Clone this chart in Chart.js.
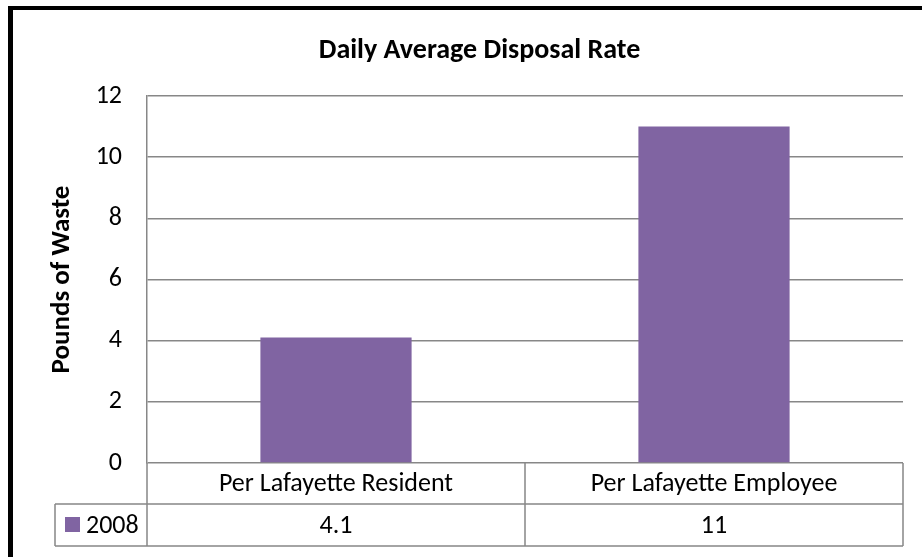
<!DOCTYPE html>
<html>
<head>
<meta charset="utf-8">
<script src="https://cdn.jsdelivr.net/npm/chart.js@4.4.1/dist/chart.umd.min.js"></script>
<style>
  html, body { margin: 0; padding: 0; background: #ffffff; }
  #wrap { width: 922px; height: 557px; position: relative; }
</style>
</head>
<body>
<div id="wrap"><canvas id="c" width="922" height="557"></canvas></div>
<script>
const chartTitle = 'Daily Average Disposal Rate';
const yAxisTitle = 'Pounds of Waste';
const categories = ['Per Lafayette Resident', 'Per Lafayette Employee'];
const seriesName = '2008';
const values2008 = [4.1, 11];
const yMin = 0;
const yMax = 12;
const yStep = 2;

const FONT = 'Carlito, Calibri, Lato, sans-serif';
const GRID = '#878787';
const BAR = '#8064A2';

const frameAndTable = {
  id: 'frameAndTable',
  beforeDraw(chart) {
    const ctx = chart.ctx;
    ctx.save();
    ctx.fillStyle = '#ffffff';
    ctx.fillRect(0, 0, chart.width, chart.height);
    ctx.fillStyle = '#000000';
    ctx.fillRect(8, 6, 5, chart.height - 6);
    ctx.fillRect(8, 6, chart.width - 8, 4);
    ctx.restore();
  },
  afterDraw(chart) {
    const ctx = chart.ctx;
    const area = chart.chartArea;
    const xs = chart.scales.x;
    const labels = chart.data.labels;
    const ds = chart.data.datasets[0];
    const n = labels.length;
    const rowH1 = 41, rowH2 = 42;
    const top = area.bottom;
    const mid = top + rowH1;
    const bot = mid + rowH2;
    const legendLeft = 55;
    const bounds = [area.left];
    for (let i = 0; i < n - 1; i++) {
      bounds.push((xs.getPixelForValue(i) + xs.getPixelForValue(i + 1)) / 2);
    }
    bounds.push(area.right);
    ctx.save();
    ctx.strokeStyle = GRID;
    ctx.lineWidth = 1.5;
    ctx.beginPath();
    bounds.forEach(b => { ctx.moveTo(b, top); ctx.lineTo(b, bot); });
    ctx.moveTo(legendLeft, mid); ctx.lineTo(legendLeft, bot);
    ctx.moveTo(legendLeft, mid); ctx.lineTo(area.right, mid);
    ctx.moveTo(legendLeft, bot); ctx.lineTo(area.right, bot);
    ctx.stroke();
    ctx.fillStyle = '#000000';
    ctx.font = '26px ' + FONT;
    ctx.textAlign = 'center';
    ctx.textBaseline = 'middle';
    for (let i = 0; i < n; i++) {
      const cx = xs.getPixelForValue(i);
      ctx.fillText(labels[i], cx, (top + mid) / 2 + 1);
      ctx.fillText(String(ds.data[i]), cx, (mid + bot) / 2 + 1);
    }
    ctx.fillStyle = ds.backgroundColor;
    ctx.fillRect(65, 517, 15, 15);
    ctx.fillStyle = '#000000';
    ctx.textAlign = 'left';
    ctx.fillText(ds.label, 86, (mid + bot) / 2 + 1);
    ctx.restore();
  }
};

new Chart(document.getElementById('c'), {
  type: 'bar',
  data: {
    labels: categories,
    datasets: [{
      label: seriesName,
      data: values2008,
      backgroundColor: BAR,
      borderWidth: 0,
      categoryPercentage: 1.0,
      barPercentage: 0.4
    }]
  },
  options: {
    responsive: false,
    animation: false,
    devicePixelRatio: 1,
    layout: { padding: { left: 56, right: 19, top: 0, bottom: 94 } },
    plugins: {
      legend: { display: false },
      tooltip: { enabled: false },
      title: {
        display: true,
        text: chartTitle,
        color: '#000000',
        font: { family: FONT, size: 28, weight: 'bold' },
        padding: { top: 34, bottom: 28.4 }
      }
    },
    scales: {
      x: { display: false },
      y: {
        min: yMin,
        max: yMax,
        ticks: {
          stepSize: yStep,
          color: '#000000',
          font: { family: FONT, size: 26 },
          padding: 25
        },
        grid: { color: GRID, lineWidth: 1.5, drawTicks: false },
        border: { color: GRID, width: 1.5 },
        title: {
          display: true,
          text: yAxisTitle,
          color: '#000000',
          font: { family: FONT, size: 27, weight: 'bold' },
          padding: { top: -10.2, bottom: 0 }
        },
        afterFit(scale) { scale.width = 91; }
      }
    }
  },
  plugins: [frameAndTable]
});
</script>
</body>
</html>
